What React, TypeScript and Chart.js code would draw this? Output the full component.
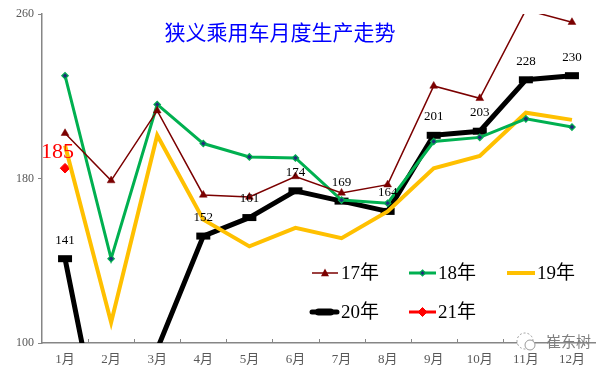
import React, { useEffect, useRef } from "react";
import { Chart, registerables } from "chart.js";

Chart.register(...registerables);

// ---- data ----
const months = ["1月", "2月", "3月", "4月", "5月", "6月", "7月", "8月", "9月", "10月", "11月", "12月"];
const yTicks = [100, 180, 260];
const seriesNames = ["17年", "18年", "19年", "20年", "21年"];
const s17 = [202, 179, 213, 172, 171, 181, 173, 177, 225, 219, 262, 256];
const s18 = [230, 141, 216, 197, 190.5, 190, 169.5, 168, 198, 200, 209, 205];
const s19 = [196, 110, 201, 160, 147, 156, 151, 164, 185, 191, 212, 208.5];
const s20 = [141, 29, 97, 152, 161, 174, 169, 164, 201, 203, 228, 230];
const s21 = [185, null, null, null, null, null, null, null, null, null, null, null];
const titleText = "狭义乘用车月度生产走势";
const watermarkText = "崔东树";

const C17 = "#7b0000";
const C18 = "#00b050";
const C18P = "#1f2f7a";
const C19 = "#ffc000";
const C20 = "#000000";
const C21 = "#ff0000";
const AXIS = "#868686";
const TICKC = "#595959";
const SERIF = '"Liberation Serif", "Noto Sans CJK SC", serif';

function drawTri(ctx: CanvasRenderingContext2D, x: number, y: number, r: number, c: string) {
  const e = r * 1.9;
  ctx.beginPath();
  ctx.moveTo(x, y - e * 0.55);
  ctx.lineTo(x + e / 2, y + e * 0.42);
  ctx.lineTo(x - e / 2, y + e * 0.42);
  ctx.closePath();
  ctx.fillStyle = c;
  ctx.fill();
}
function drawDiamond(ctx: CanvasRenderingContext2D, x: number, y: number, r: number, fill: string, stroke: string, bw: number) {
  ctx.beginPath();
  ctx.moveTo(x, y - r);
  ctx.lineTo(x + r, y);
  ctx.lineTo(x, y + r);
  ctx.lineTo(x - r, y);
  ctx.closePath();
  ctx.fillStyle = fill;
  ctx.fill();
  ctx.lineWidth = bw;
  ctx.strokeStyle = stroke;
  ctx.stroke();
}

const overlayPlugin = {
  id: "overlay",
  afterDatasetsDraw(chart: any) {
    const ctx: CanvasRenderingContext2D = chart.ctx;
    const ys = chart.scales.y;
    const xs = chart.scales.x;
    ctx.save();
    // inward x ticks at category boundaries
    ctx.strokeStyle = AXIS;
    ctx.lineWidth = 1;
    const bottom = chart.chartArea.bottom;
    for (let i = 0; i < months.length - 1; i++) {
      const x = Math.round((xs.getPixelForValue(i) + xs.getPixelForValue(i + 1)) / 2) + 0.5;
      ctx.beginPath();
      ctx.moveTo(x, bottom);
      ctx.lineTo(x, bottom - 4);
      ctx.stroke();
    }
    // data labels for 20年
    const meta20 = chart.getDatasetMeta(3);
    ctx.fillStyle = "#000";
    ctx.font = `13px ${SERIF}`;
    ctx.textAlign = "center";
    ctx.textBaseline = "middle";
    meta20.data.forEach((pt: any, i: number) => {
      const v = s20[i];
      if (v >= ys.min && v <= ys.max) ctx.fillText(String(v), pt.x, pt.y - 18.5);
    });
    // label for 21年
    const meta21 = chart.getDatasetMeta(4);
    const p21 = meta21.data[0];
    ctx.fillStyle = C21;
    ctx.font = `22px ${SERIF}`;
    ctx.fillText(String(s21[0]), p21.x - 7.5, p21.y - 16.5);

    // title
    ctx.fillStyle = "#0000ff";
    ctx.font = '21px "Noto Sans CJK SC", sans-serif';
    ctx.fillText(titleText, 280, 32);

    // legend
    const items = [
      { x0: 312, x1: 338, y: 273, tx: 341 },
      { x0: 409, x1: 436, y: 273, tx: 438 },
      { x0: 507, x1: 535, y: 273, tx: 537 },
      { x0: 312, x1: 337, y: 312, tx: 341 },
      { x0: 409, x1: 436, y: 312, tx: 438 },
    ];
    const lw = [1.5, 3, 4, 5, 3];
    const lc = [C17, C18, C19, C20, C21];
    items.forEach((it, i) => {
      ctx.beginPath();
      ctx.strokeStyle = lc[i];
      ctx.lineWidth = lw[i];
      ctx.lineCap = i === 3 ? "round" : "butt";
      ctx.moveTo(it.x0, it.y);
      ctx.lineTo(it.x1, it.y);
      ctx.stroke();
      const mx = (it.x0 + it.x1) / 2;
      if (i === 0) drawTri(ctx, mx, it.y, 4.2, C17);
      if (i === 1) drawDiamond(ctx, mx, it.y, 3, C18P, C18, 1.2);
      if (i === 3) {
        ctx.beginPath();
        ctx.lineWidth = 7;
        ctx.lineCap = "round";
        ctx.moveTo(mx - 6, it.y);
        ctx.lineTo(mx + 6, it.y);
        ctx.stroke();
      }
      if (i === 4) drawDiamond(ctx, mx, it.y, 4.5, C21, C21, 1);
      ctx.fillStyle = "#000";
      ctx.font = `19px ${SERIF}`;
      ctx.textAlign = "left";
      ctx.textBaseline = "middle";
      ctx.fillText(seriesNames[i], it.tx, it.y + 1);
    });

    // watermark
    ctx.beginPath();
    ctx.arc(525, 341, 8, 0, Math.PI * 2);
    ctx.fillStyle = "#fff";
    ctx.fill();
    ctx.setLineDash([2, 2]);
    ctx.strokeStyle = "#9a9a9a";
    ctx.lineWidth = 1;
    ctx.stroke();
    ctx.setLineDash([]);
    ctx.beginPath();
    ctx.arc(530, 345, 5, 0, Math.PI * 2);
    ctx.fillStyle = "#fff";
    ctx.fill();
    ctx.stroke();
    ctx.fillStyle = "#7f7f7f";
    ctx.font = '15px "Noto Sans CJK SC", sans-serif';
    ctx.textAlign = "left";
    ctx.fillText(watermarkText, 546, 341);
    ctx.restore();
  },
};

export default function App() {
  const ref = useRef<HTMLCanvasElement | null>(null);
  useEffect(() => {
    document.body.style.margin = "0";
    const canvas = ref.current;
    if (!canvas) return;
    const chart = new Chart(canvas, {
      type: "line",
      data: {
        labels: months,
        datasets: [
          {
            label: seriesNames[0],
            data: s17,
            borderColor: C17,
            backgroundColor: C17,
            borderWidth: 1.5,
            pointStyle: "triangle",
            pointRadius: 4.5,
            pointBorderWidth: 0.5,
            pointBackgroundColor: C17,
            pointBorderColor: C17,
            clip: 0,
            tension: 0,
          },
          {
            label: seriesNames[1],
            data: s18,
            borderColor: C18,
            backgroundColor: C18P,
            borderWidth: 3,
            pointStyle: "rectRot",
            pointRadius: 3.2,
            pointBorderWidth: 1.2,
            pointBackgroundColor: C18P,
            pointBorderColor: C18,
            clip: 0,
          },
          {
            label: seriesNames[2],
            data: s19,
            borderColor: C19,
            backgroundColor: C19,
            borderWidth: 4,
            pointRadius: 0,
            clip: 0,
          },
          {
            label: seriesNames[3],
            data: s20,
            borderColor: C20,
            backgroundColor: C20,
            borderWidth: 5,
            pointStyle: "line",
            pointRadius: 7,
            pointBorderWidth: 7,
            pointBorderColor: C20,
            borderJoinStyle: "round",
            clip: 0,
          },
          {
            label: seriesNames[4],
            data: s21,
            borderColor: C21,
            backgroundColor: C21,
            borderWidth: 3,
            pointStyle: "rectRot",
            pointRadius: 4.8,
            pointBorderWidth: 1,
            pointBackgroundColor: C21,
            pointBorderColor: C21,
            clip: 0,
          },
        ] as any,
      },
      options: {
        animation: false,
        responsive: false,
        maintainAspectRatio: false,
        layout: { padding: { top: 14, right: 14, left: 0, bottom: 0 } },
        plugins: {
          legend: { display: false },
          title: { display: false },
          tooltip: { enabled: false },
        },
        scales: {
          x: {
            type: "category",
            offset: true,
            grid: { display: false },
            border: { display: true, color: AXIS, width: 1.5 },
            ticks: {
              color: TICKC,
              font: { family: SERIF, size: 13 },
              padding: 1,
              maxRotation: 0,
              autoSkip: false,
            },
            afterFit: (s: any) => {
              s.height = 26;
            },
          },
          y: {
            min: yTicks[0],
            max: yTicks[yTicks.length - 1],
            afterBuildTicks: (s: any) => {
              s.ticks = yTicks.map((v) => ({ value: v }));
            },
            grid: { drawOnChartArea: false, drawTicks: true, tickLength: 4, color: AXIS },
            border: { display: true, color: AXIS, width: 1.5 },
            ticks: {
              color: TICKC,
              font: { family: SERIF, size: 12 },
              padding: 4,
            },
            afterFit: (s: any) => {
              s.width = 42;
            },
          },
        },
      } as any,
      plugins: [overlayPlugin],
    });
    return () => chart.destroy();
  }, []);
  return (
    <div style={{ width: 609, height: 369, background: "#fff" }}>
      <canvas ref={ref} width={609} height={369} style={{ display: "block" }} />
    </div>
  );
}
